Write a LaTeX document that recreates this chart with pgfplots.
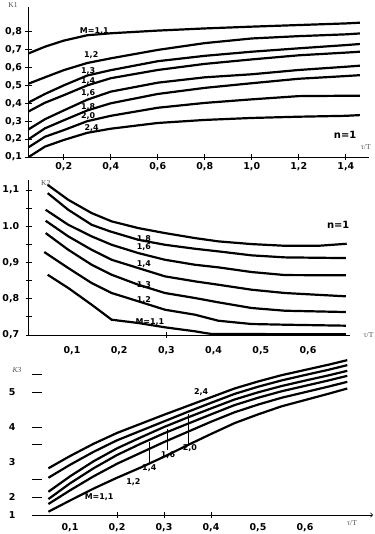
\documentclass[border=0pt]{standalone}
\usepackage{fontspec}
\setmainfont{DejaVu Sans}
\newfontfamily\thinfont{Liberation Serif}
\usepackage{pgfplots}
\pgfplotsset{compat=1.18}
\tikzset{
  lab/.style={font=\fontsize{8}{9}\selectfont\bfseries,inner sep=0pt},
  axl/.style={font=\fontsize{7.5}{8}\selectfont\thinfont,text=black!70,inner sep=0pt},
}
\begin{document}
\begin{tikzpicture}
\useasboundingbox (0bp,0bp) rectangle (375bp,534bp);
\pgfplotsset{
  base/.style={scale only axis, axis lines=left, clip=false,
    axis line style={line width=0.8bp,-},
    tick style={line width=0.8bp,black},
    tick align=center, major tick length=6bp,
    ticklabel style={font=\fontsize{9.5}{10}\selectfont\bfseries},
    cycle list={black,mark=none,line width=2.2bp\\}},
}
% ---------------- Panel 1 ----------------
\begin{axis}[base, at={(28.5bp,377bp)}, anchor=south west,
  width=340.8bp, height=150.4bp,
  xmin=0.05, xmax=1.5, ymin=0.1, ymax=0.94,
  xtick={0.2,0.4,0.6,0.8,1.0,1.2,1.4},
  xticklabels={{0,2},{0,4},{0,6},{0,8},{1,0},{1,2},{1,4}},
  ytick={0.1,0.2,0.3,0.4,0.5,0.6,0.7,0.8},
  yticklabels={{0,1},{0,2},{0,3},{0,4},{0,5},{0,6},{0,7},{0,8}},
  xticklabel style={yshift=1bp},
]
\addplot coordinates {(0.051,0.679) (0.12,0.716) (0.2,0.75) (0.3,0.78) (0.4,0.791) (0.6,0.806) (0.8,0.818) (1.0,0.828) (1.2,0.837) (1.4,0.846) (1.46,0.85)};
\addplot coordinates {(0.051,0.51) (0.12,0.545) (0.2,0.585) (0.3,0.625) (0.4,0.651) (0.6,0.698) (0.8,0.736) (1.0,0.762) (1.2,0.775) (1.4,0.785) (1.46,0.79)};
\addplot coordinates {(0.051,0.405) (0.12,0.452) (0.2,0.50) (0.3,0.555) (0.4,0.585) (0.6,0.635) (0.8,0.665) (1.0,0.688) (1.2,0.707) (1.4,0.725) (1.46,0.731)};
\addplot coordinates {(0.051,0.355) (0.12,0.403) (0.2,0.445) (0.3,0.50) (0.4,0.54) (0.6,0.586) (0.8,0.62) (1.0,0.645) (1.2,0.668) (1.4,0.683) (1.46,0.688)};
\addplot coordinates {(0.051,0.255) (0.12,0.311) (0.2,0.36) (0.3,0.42) (0.4,0.465) (0.6,0.515) (0.8,0.545) (1.0,0.562) (1.2,0.586) (1.4,0.604) (1.46,0.61)};
\addplot coordinates {(0.051,0.20) (0.12,0.26) (0.2,0.305) (0.3,0.36) (0.4,0.40) (0.6,0.452) (0.8,0.486) (1.0,0.512) (1.2,0.537) (1.4,0.552) (1.46,0.557)};
\addplot coordinates {(0.051,0.155) (0.12,0.213) (0.2,0.25) (0.3,0.30) (0.4,0.33) (0.6,0.375) (0.8,0.402) (1.0,0.422) (1.2,0.44) (1.4,0.442) (1.46,0.442)};
\addplot coordinates {(0.051,0.10) (0.12,0.158) (0.2,0.195) (0.3,0.235) (0.4,0.258) (0.6,0.29) (0.8,0.307) (1.0,0.318) (1.2,0.325) (1.4,0.33) (1.46,0.334)};
\node[lab] at (axis cs:0.33,0.803) {M=1,1};
\node[lab] at (axis cs:0.317,0.668) {1,2};
\node[lab] at (axis cs:0.304,0.582) {1,3};
\node[lab] at (axis cs:0.304,0.521) {1,4};
\node[lab] at (axis cs:0.304,0.459) {1,6};
\node[lab] at (axis cs:0.304,0.378) {1,8};
\node[lab] at (axis cs:0.304,0.331) {2,0};
\node[lab] at (axis cs:0.319,0.26) {2,4};
\node[lab,font=\fontsize{10}{11}\selectfont\bfseries] at (axis cs:1.397,0.223) {n=1};
\node[axl] at (axis cs:1.485,0.158) {τ/T};
\node[axl] at ([xshift=-15.5bp,yshift=1.5bp]rel axis cs:0,1) {K1};
\end{axis}
% ---------------- Panel 2 ----------------
\begin{axis}[base, at={(28.7bp,199bp)}, anchor=south west,
  width=321.8bp, height=155bp,
  xmin=0.0083, xmax=0.69, ymin=0.7, ymax=1.128,
  xtick={0.1,0.2,0.3,0.4,0.5,0.6},
  xticklabels={{0,1},{0,2},{0,3},{0,4},{0,5},{0,6}},
  xtick style={draw=none},
  extra x ticks={0.3}, extra x tick labels={},
  extra x tick style={xtick style={draw=black}},
  xticklabel style={yshift=-5bp},
  ytick={0.7,0.75,0.8,0.85,0.9,0.95,1.0,1.05,1.1},
  yticklabels={{0,7},{},{0,8},{},{0,9},{},{1.0},{},{1,1}},
  yticklabel style={xshift=-3bp},
]
\addplot coordinates {(0.0485,1.1146) (0.0922,1.0732) (0.1417,1.0366) (0.1841,1.0137) (0.2405,0.9952) (0.297,0.9814) (0.3606,0.9676) (0.41,0.9585) (0.4807,0.951) (0.5513,0.9463) (0.6218,0.9463) (0.682,0.9519)};
\addplot coordinates {(0.0485,1.0917) (0.0922,1.0457) (0.1417,1.0043) (0.1806,0.9861) (0.2405,0.9629) (0.297,0.9491) (0.3606,0.9381) (0.41,0.9309) (0.4807,0.9199) (0.5513,0.9143) (0.68,0.9124)};
\addplot coordinates {(0.0443,1.0457) (0.0922,1.0043) (0.1417,0.9723) (0.1841,0.9491) (0.2405,0.9262) (0.297,0.9077) (0.3606,0.8939) (0.41,0.8868) (0.4807,0.8738) (0.5513,0.8655) (0.68,0.8647)};
\addplot coordinates {(0.0443,1.0153) (0.0922,0.9723) (0.1417,0.9353) (0.1841,0.9077) (0.2405,0.8848) (0.297,0.8619) (0.3606,0.8481) (0.41,0.8388) (0.4807,0.825) (0.5513,0.8159) (0.68,0.8068)};
\addplot coordinates {(0.0443,0.9814) (0.0922,0.9353) (0.1417,0.8939) (0.1841,0.8663) (0.2405,0.8388) (0.297,0.8159) (0.3606,0.8021) (0.41,0.7902) (0.4807,0.7745) (0.5513,0.767) (0.68,0.7634)};
\addplot coordinates {(0.0413,0.929) (0.0922,0.8848) (0.1417,0.8434) (0.1841,0.8159) (0.2405,0.793) (0.297,0.7698) (0.3606,0.756) (0.41,0.7394) (0.4807,0.7303) (0.5513,0.7284) (0.68,0.7257)};
\addplot coordinates {(0.0485,0.8663) (0.0922,0.8297) (0.1417,0.7836) (0.1841,0.7422) (0.2405,0.7331) (0.297,0.7212) (0.3606,0.7102) (0.3818,0.7055) (0.396,0.7028) (0.68,0.702)};
\node[lab] at (axis cs:0.2525,0.9634) {1,8};
\node[lab] at (axis cs:0.2525,0.942) {1,6};
\node[lab] at (axis cs:0.2525,0.896) {1,4};
\node[lab] at (axis cs:0.2525,0.839) {1,3};
\node[lab] at (axis cs:0.2525,0.797) {1,2};
\node[lab] at (axis cs:0.265,0.736) {M=1,1};
\node[lab,font=\fontsize{10}{11}\selectfont\bfseries] at (axis cs:0.664,1.003) {n=1};
\node[axl] at ([xshift=18bp,yshift=0bp]rel axis cs:1,0) {τ/T};
\node[axl] at ([xshift=17bp,yshift=-3bp]rel axis cs:0,1) {K2};
\end{axis}
% ---------------- Panel 3 ----------------
\begin{axis}[base, at={(32bp,19bp)}, anchor=south west,
  width=341bp, height=161.5bp,
  xmin=0.0191, xmax=0.7447, ymin=1.486, ymax=6.1,
  axis x line=bottom, axis y line=left,
  x axis line style={->},
  y axis line style={draw=none},
  xtick={0.1,0.2,0.3,0.4,0.5,0.6},
  xticklabels={{0,1},{0,2},{0,3},{0,4},{0,5},{0,6}},
  xtick style={draw=none},
  extra x ticks={0.2,0.3,0.4}, extra x tick labels={},
  extra x tick style={xtick style={draw=black}},
  xticklabel style={yshift=-2bp},
  ytick={1.486,2,3,4,5},
  yticklabels={1,2,3,4,5},
  ytick style={draw=none},
  extra y ticks={2,2.5,3.5,4,5,5.5}, extra y tick labels={},
  extra y tick style={ytick style={draw=black,xshift=5bp}, major tick length=10bp},
  yticklabel style={xshift=-10bp},
]
\addplot coordinates {(0.054,2.82) (0.1,3.17) (0.15,3.52) (0.2,3.83) (0.25,4.09) (0.3,4.35) (0.35,4.6) (0.4,4.85) (0.45,5.1) (0.5,5.3) (0.55,5.48) (0.6,5.63) (0.65,5.78) (0.69,5.91)};
\addplot coordinates {(0.054,2.55) (0.1,2.92) (0.15,3.29) (0.2,3.62) (0.25,3.89) (0.3,4.16) (0.35,4.43) (0.4,4.69) (0.45,4.945) (0.5,5.15) (0.55,5.33) (0.6,5.485) (0.65,5.635) (0.69,5.767)};
\addplot coordinates {(0.054,2.15) (0.1,2.59) (0.15,3.02) (0.2,3.39) (0.25,3.70) (0.3,4.0) (0.35,4.27) (0.4,4.53) (0.45,4.785) (0.5,4.99) (0.55,5.17) (0.6,5.325) (0.65,5.475) (0.69,5.605)};
\addplot coordinates {(0.054,1.94) (0.1,2.39) (0.15,2.82) (0.2,3.2) (0.25,3.52) (0.3,3.82) (0.35,4.09) (0.4,4.36) (0.45,4.625) (0.5,4.835) (0.55,5.02) (0.6,5.175) (0.65,5.33) (0.69,5.462)};
\addplot coordinates {(0.054,1.80) (0.1,2.19) (0.15,2.59) (0.2,2.95) (0.25,3.26) (0.3,3.57) (0.35,3.86) (0.4,4.15) (0.45,4.42) (0.5,4.64) (0.55,4.835) (0.6,4.995) (0.65,5.155) (0.69,5.29)};
\addplot coordinates {(0.054,1.58) (0.1,1.90) (0.15,2.24) (0.2,2.55) (0.25,2.84) (0.3,3.15) (0.35,3.48) (0.4,3.8) (0.45,4.11) (0.5,4.36) (0.55,4.59) (0.6,4.77) (0.65,4.95) (0.69,5.10)};
\addplot[black,mark=none,line width=0.6bp] coordinates {(0.269,3.57) (0.269,2.94)};
\addplot[black,mark=none,line width=0.6bp] coordinates {(0.306,3.95) (0.306,3.34)};
\addplot[black,mark=none,line width=0.6bp] coordinates {(0.352,4.38) (0.352,3.51)};
\node[lab] at (axis cs:0.379,5.0) {2,4};
\node[lab] at (axis cs:0.355,3.41) {2,0};
\node[lab] at (axis cs:0.3085,3.2) {1,6};
\node[lab] at (axis cs:0.2687,2.82) {1,4};
\node[lab] at (axis cs:0.2347,2.43) {1,2};
\node[lab] at (axis cs:0.162,1.99) {M=1,1};
\node[axl] at ([yshift=-8bp]axis cs:0.7,1.486) {τ/T};
\node[axl,font=\fontsize{7.5}{8}\selectfont\thinfont\itshape] at ([xshift=-15bp]axis cs:0.0191,5.63) {K3};
\end{axis}
\end{tikzpicture}
\end{document}
